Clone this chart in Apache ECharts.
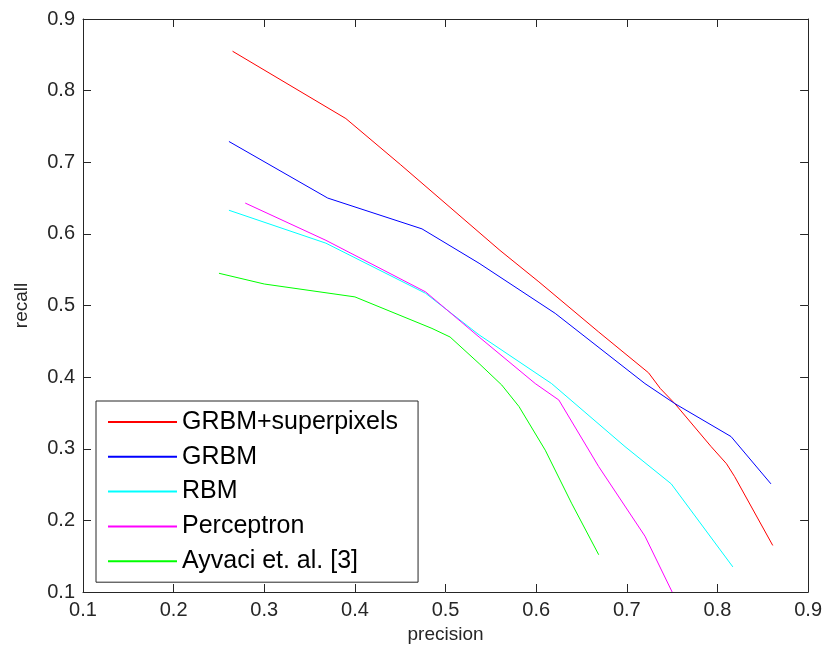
<!DOCTYPE html>
<html>
<head>
    <meta charset="UTF-8">
    <title>precision / recall</title>
    <script type="text/javascript" src="https://cdn.jsdelivr.net/npm/echarts@6/dist/echarts.min.js"></script>
    <style>
        html, body {margin: 0; padding: 0; background: #fff;}
        #chart {width: 825px; height: 654px;}
    </style>
</head>
<body>
<div id="chart"></div>
<script type="text/javascript">
    // [precision, recall] pairs
    var seriesNames = ['GRBM+superpixels', 'GRBM', 'RBM', 'Perceptron', 'Ayvaci et. al. [3]'];
    var grbmSuperpixels = [[0.265, 0.855], [0.39, 0.761], [0.45, 0.697], [0.56, 0.577], [0.603, 0.533],
        [0.669, 0.463], [0.724, 0.406], [0.737, 0.384], [0.753, 0.363], [0.793, 0.303], [0.81, 0.279],
        [0.819, 0.261], [0.861, 0.165]];
    var grbm = [[0.261, 0.729], [0.37, 0.65], [0.474, 0.607], [0.537, 0.559], [0.621, 0.489],
        [0.72, 0.391], [0.753, 0.363], [0.815, 0.317], [0.859, 0.251]];
    var rbm = [[0.261, 0.633], [0.368, 0.587], [0.478, 0.517], [0.537, 0.459], [0.617, 0.391],
        [0.698, 0.303], [0.749, 0.251], [0.817, 0.135]];
    var perceptron = [[0.279, 0.643], [0.368, 0.591], [0.478, 0.519], [0.537, 0.456], [0.599, 0.391],
        [0.625, 0.368], [0.669, 0.275], [0.72, 0.178], [0.75, 0.1]];
    var ayvaci = [[0.25, 0.545], [0.30, 0.53], [0.40, 0.512], [0.485, 0.468], [0.505, 0.456],
        [0.537, 0.419], [0.562, 0.389], [0.581, 0.359], [0.61, 0.298], [0.639, 0.224], [0.669, 0.152]];
    var xTicks = {min: 0.1, max: 0.9, interval: 0.1};
    var yTicks = {min: 0.1, max: 0.9, interval: 0.1};

    var chart = echarts.init(document.getElementById('chart'), null, {renderer: 'canvas'});
    var axisColor = '#262626';
    var font = 'Liberation Sans, Arial, sans-serif';

    function makeAxis(ticks, pos, showLabel, name) {
        return {
            type: 'value',
            position: pos,
            min: ticks.min,
            max: ticks.max,
            interval: ticks.interval,
            name: name || '',
            nameLocation: 'middle',
            nameGap: (pos === 'bottom') ? 30 : 52,
            nameTextStyle: {color: '#262626', fontSize: 19, fontFamily: font},
            axisLine: {show: true, onZero: false, lineStyle: {color: axisColor, width: 1}},
            axisTick: {show: true, inside: true, length: 8, lineStyle: {color: axisColor}},
            axisLabel: {show: showLabel, color: '#262626', fontSize: 20, fontFamily: font, margin: 8},
            splitLine: {show: false}
        };
    }

    var colors = ['#ff0000', '#0000ff', '#00ffff', '#ff00ff', '#00ff00'];
    var datasets = [grbmSuperpixels, grbm, rbm, perceptron, ayvaci];
    var series = [];
    for (var i = 0; i < datasets.length; i++) {
        series.push({
            name: seriesNames[i],
            type: 'line',
            data: datasets[i],
            symbol: 'none',
            animation: false,
            lineStyle: {color: colors[i], width: 1},
            itemStyle: {color: colors[i]}
        });
    }

    chart.setOption({
        backgroundColor: '#ffffff',
        animation: false,
        grid: {left: 83, right: 15, top: 19, bottom: 62, containLabel: false},
        xAxis: [makeAxis(xTicks, 'bottom', true, 'precision'), makeAxis(xTicks, 'top', false)],
        yAxis: [makeAxis(yTicks, 'left', true, 'recall'), makeAxis(yTicks, 'right', false)],
        legend: {
            orient: 'vertical',
            left: 96,
            top: 401,
            padding: [7, 20, 7, 12],
            itemGap: 6.8,
            itemWidth: 69,
            itemHeight: 2,
            icon: 'rect',
            borderColor: axisColor,
            borderWidth: 1,
            backgroundColor: '#ffffff',
            data: seriesNames,
            textStyle: {color: '#000', fontSize: 25, lineHeight: 28, fontFamily: font}
        },
        series: series
    });
</script>
</body>
</html>
